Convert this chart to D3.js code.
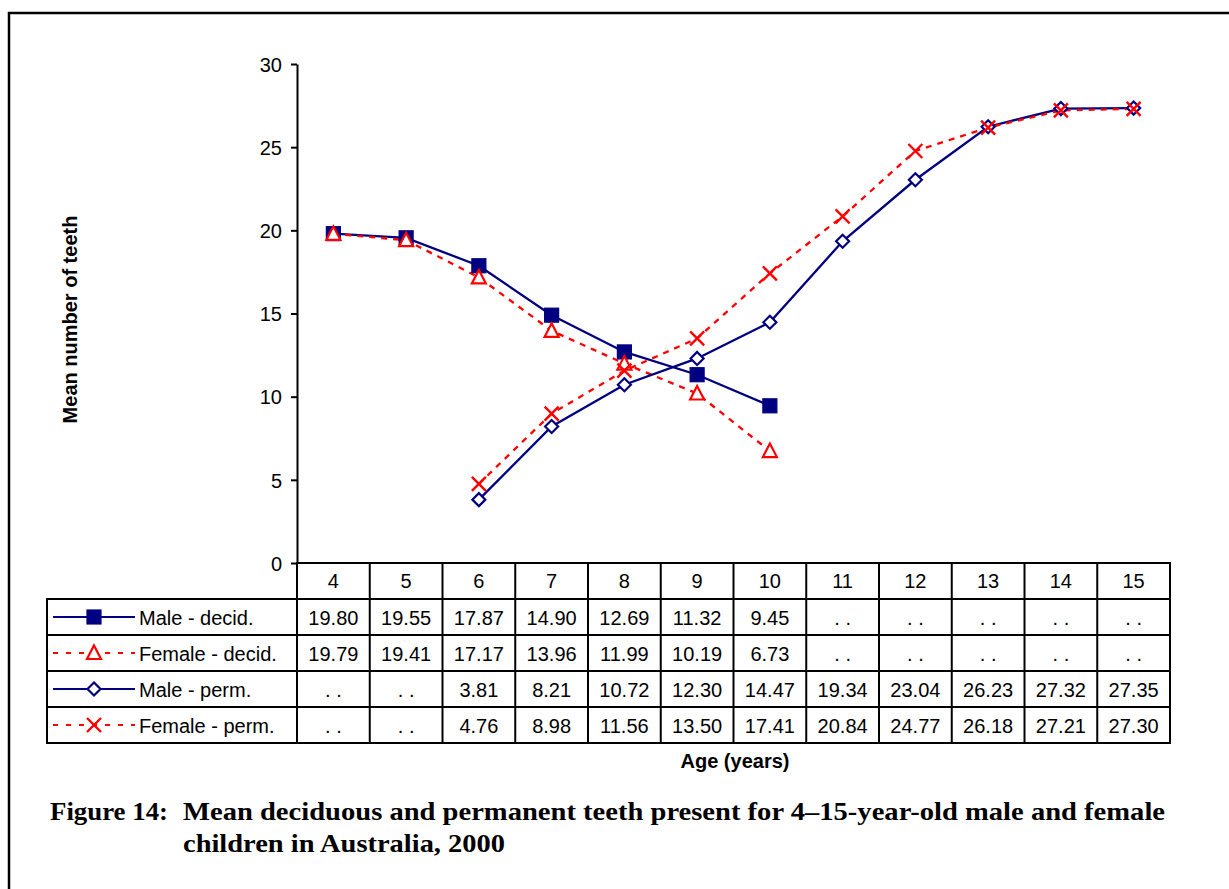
<!DOCTYPE html>
<html>
<head>
<meta charset="utf-8">
<script src="https://cdn.jsdelivr.net/npm/d3@7/dist/d3.min.js"></script>
<style>
  html, body { margin: 0; padding: 0; background: #fff; }
  svg { display: block; }
</style>
</head>
<body>
<svg id="chart" width="1229" height="889"></svg>
<script>
// ---- Data ----
const ages = [4, 5, 6, 7, 8, 9, 10, 11, 12, 13, 14, 15];
const maleDecid   = [19.80, 19.55, 17.87, 14.90, 12.69, 11.32, 9.45, null, null, null, null, null];
const femaleDecid = [19.79, 19.41, 17.17, 13.96, 11.99, 10.19, 6.73, null, null, null, null, null];
const malePerm    = [null, null, 3.81, 8.21, 10.72, 12.30, 14.47, 19.34, 23.04, 26.23, 27.32, 27.35];
const femalePerm  = [null, null, 4.76, 8.98, 11.56, 13.50, 17.41, 20.84, 24.77, 26.18, 27.21, 27.30];
const seriesNames = ["Male - decid.", "Female - decid.", "Male - perm.", "Female - perm."];
const yTicks = [0, 5, 10, 15, 20, 25, 30];
const yLabel = "Mean number of teeth";
const xLabel = "Age (years)";
const captionLead = "Figure 14:";
const captionLine1 = "Mean deciduous and permanent teeth present for 4\u201315-year-old male and female";
const captionLine2 = "children in Australia, 2000";

const series = [
  { name: seriesNames[0], values: maleDecid,   color: "#000080", dash: null, legendDash: null,  marker: "square" },
  { name: seriesNames[1], values: femaleDecid, color: "#ff0000", dash: "6,6", legendDash: "5,8", marker: "triangle" },
  { name: seriesNames[2], values: malePerm,    color: "#000080", dash: null, legendDash: null,  marker: "diamond" },
  { name: seriesNames[3], values: femalePerm,  color: "#ff0000", dash: "6,6", legendDash: "5,8", marker: "cross" }
];

// ---- Layout ----
const svg = d3.select("#chart");
const plotLeft = 297, plotRight = 1170, plotTop = 64, plotBottom = 563;
const rowH = 36;
const legendLeft = 47;
const font = "'Liberation Sans', Arial, sans-serif";
const fs = 20;

const x = d3.scaleBand().domain(ages).range([plotLeft, plotRight]).padding(0);
const y = d3.scaleLinear().domain([0, 30]).range([plotBottom, plotTop]);

// Frame
svg.append("rect").attr("x", 9).attr("y", 13).attr("width", 1240).attr("height", 900)
  .attr("fill", "none").attr("stroke", "#000").attr("stroke-width", 2.5);

// Y axis
const yAxis = d3.axisLeft(y).tickValues(yTicks).tickSize(6).tickPadding(9).tickSizeOuter(0);
const gy = svg.append("g").attr("transform", `translate(${plotLeft},0)`).call(yAxis);
gy.select(".domain").attr("stroke", "#000").attr("stroke-width", 2);
gy.selectAll(".tick line").attr("stroke", "#000").attr("stroke-width", 2);
gy.selectAll(".tick text").attr("font-family", font).attr("font-size", fs).attr("fill", "#000")
  .attr("dy", "0.36em");

// Y label
svg.append("text")
  .attr("transform", `translate(77,${(plotTop + plotBottom) / 2 + 6}) rotate(-90)`)
  .attr("text-anchor", "middle").attr("font-family", font).attr("font-size", fs)
  .attr("font-weight", "bold").text(yLabel);

// ---- Table ----
const table = svg.append("g");
const tableBottom = plotBottom + rowH * 5;
for (let r = 0; r <= 5; r++) {
  const yy = plotBottom + r * rowH;
  const x0 = r === 0 ? plotLeft : legendLeft;
  table.append("line").attr("x1", x0 - 1).attr("x2", plotRight + 1).attr("y1", yy).attr("y2", yy)
    .attr("stroke", "#000").attr("stroke-width", 2);
}
table.append("line").attr("x1", legendLeft).attr("x2", legendLeft)
  .attr("y1", plotBottom + rowH).attr("y2", tableBottom).attr("stroke", "#000").attr("stroke-width", 2);
ages.forEach(a => {
  table.append("line").attr("x1", x(a)).attr("x2", x(a))
    .attr("y1", plotBottom).attr("y2", tableBottom).attr("stroke", "#000").attr("stroke-width", 2);
});
table.append("line").attr("x1", plotRight).attr("x2", plotRight)
  .attr("y1", plotBottom).attr("y2", tableBottom).attr("stroke", "#000").attr("stroke-width", 2);

table.selectAll("text.hdr").data(ages).enter().append("text")
  .attr("class", "hdr")
  .attr("x", d => x(d) + x.bandwidth() / 2).attr("y", plotBottom + rowH / 2 + 7)
  .attr("text-anchor", "middle").attr("font-family", font).attr("font-size", fs)
  .text(d => d);

function drawMarker(g, type, color, cx, cy) {
  if (type === "square") {
    g.append("rect").attr("x", cx - 7).attr("y", cy - 7).attr("width", 14).attr("height", 14)
      .attr("fill", color).attr("stroke", color).attr("stroke-width", 1.2);
  } else if (type === "triangle") {
    g.append("path").attr("d", `M${cx},${cy - 7.5}L${cx + 7},${cy + 6}L${cx - 7},${cy + 6}Z`)
      .attr("fill", "#fff").attr("stroke", color).attr("stroke-width", 2.2);
  } else if (type === "diamond") {
    g.append("path").attr("d", `M${cx},${cy - 6.5}L${cx + 6.5},${cy}L${cx},${cy + 6.5}L${cx - 6.5},${cy}Z`)
      .attr("fill", "#fff").attr("stroke", color).attr("stroke-width", 2.2);
  } else if (type === "cross") {
    g.append("path").attr("d", `M${cx - 7},${cy - 7}L${cx + 7},${cy + 7}M${cx + 7},${cy - 7}L${cx - 7},${cy + 7}`)
      .attr("fill", "none").attr("stroke", color).attr("stroke-width", 2.4);
  }
}

series.forEach((s, i) => {
  const rowTop = plotBottom + rowH * (i + 1);
  const cy = rowTop + rowH / 2;
  const lg = table.append("g");
  lg.append("line").attr("x1", 53).attr("x2", 135).attr("y1", cy).attr("y2", cy)
    .attr("stroke", s.color).attr("stroke-width", 2).attr("stroke-dasharray", s.legendDash);
  drawMarker(lg, s.marker, s.color, 94, cy);
  lg.append("text").attr("x", 139).attr("y", cy + 8).attr("font-family", font).attr("font-size", fs)
    .text(s.name);
  table.selectAll(null).data(s.values).enter().append("text")
    .attr("x", (d, j) => x(ages[j]) + x.bandwidth() / 2)
    .attr("y", cy + 8)
    .attr("text-anchor", "middle").attr("font-family", font).attr("font-size", fs)
    .text(d => d == null ? ". ." : d.toFixed(2));
});

svg.append("text").attr("x", 735).attr("y", 768).attr("text-anchor", "middle")
  .attr("font-family", font).attr("font-size", fs).attr("font-weight", "bold").text(xLabel);

// ---- Lines & markers ----
const line = d3.line()
  .defined(d => d.v != null)
  .x(d => x(d.a) + x.bandwidth() / 2)
  .y(d => y(d.v));

const plot = svg.append("g");
series.forEach(s => {
  const pts = ages.map((a, j) => ({ a, v: s.values[j] }));
  plot.append("path").attr("d", line(pts)).attr("fill", "none")
    .attr("stroke", s.color).attr("stroke-width", 2.3).attr("stroke-dasharray", s.dash);
});
series.forEach(s => {
  const g = plot.append("g");
  ages.forEach((a, j) => {
    const v = s.values[j];
    if (v != null) drawMarker(g, s.marker, s.color, x(a) + x.bandwidth() / 2, y(v));
  });
});

// ---- Caption ----
const serif = "'Liberation Serif', 'Times New Roman', serif";
svg.append("text").attr("x", 50).attr("y", 820).attr("font-family", serif).attr("font-size", 26)
  .attr("font-weight", "bold").attr("textLength", 118).attr("lengthAdjust", "spacingAndGlyphs")
  .text(captionLead);
svg.append("text").attr("x", 183).attr("y", 820).attr("font-family", serif).attr("font-size", 26)
  .attr("font-weight", "bold").attr("textLength", 982).attr("lengthAdjust", "spacingAndGlyphs")
  .text(captionLine1);
svg.append("text").attr("x", 183).attr("y", 852).attr("font-family", serif).attr("font-size", 26)
  .attr("font-weight", "bold").attr("textLength", 322).attr("lengthAdjust", "spacingAndGlyphs")
  .text(captionLine2);
</script>
</body>
</html>
